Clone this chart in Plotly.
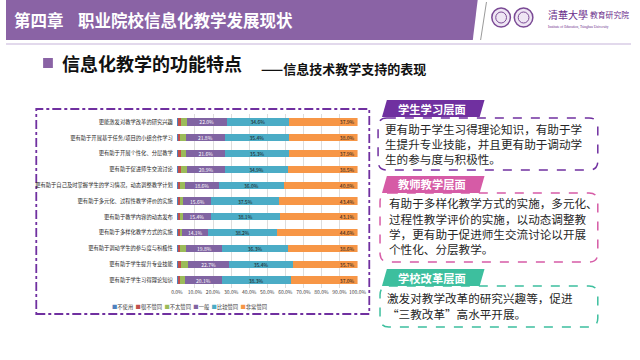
import plotly.graph_objects as go

W, H = 640, 360

categories = [
    "更能激发对教学改革的研究兴趣",
    "更有助于开展基于任务/项目的小组合作学习",
    "更有助于开展个性化、分层教学",
    "更有助于促进师生交流讨论",
    "更有助于自己及时掌握学生的学习情况，动态调整教学计划",
    "更有助于多元化、过程性教学评价的实施",
    "更有助于教学内容的动态发布",
    "更有助于多样化教学方式的实施",
    "更有助于调动学生的参与度与积极性",
    "更有助于学生提升专业技能",
    "更有助于学生习得理论知识",
]
series_names = ["不使用", "很不赞同", "不太赞同", "一般", "比较赞同", "非常赞同"]
s_none = [1.1, 1.0, 1.0, 1.1, 1.0, 1.0, 1.0, 1.0, 0.9, 1.0, 1.0]
s_strong_dis = [1.0, 0.9, 1.0, 1.0, 0.9, 0.7, 0.7, 0.6, 0.9, 1.0, 0.8]
s_dis = [3.4, 2.9, 3.2, 3.6, 2.7, 1.8, 1.7, 1.5, 3.5, 4.2, 2.8]
s_neutral = [22.0, 21.8, 21.6, 20.9, 18.6, 15.6, 15.4, 14.1, 19.8, 22.7, 20.1]
s_agree = [34.6, 35.4, 35.3, 34.9, 36.0, 37.5, 38.1, 38.2, 36.3, 35.4, 38.3]
s_strong = [37.9, 38.0, 37.9, 38.5, 40.8, 43.4, 43.1, 44.6, 38.6, 35.7, 37.0]
x_ticks = [0, 10, 20, 30, 40, 50, 60, 70, 80, 90, 100]

series_values = [s_none, s_strong_dis, s_dis, s_neutral, s_agree, s_strong]
colors = ["#4F81BD", "#C0504D", "#9BBB59", "#8064A2", "#4BACC6", "#F79646"]
text_colors = [None, None, None, "#FFFFFF", "#1A1A1A", "#1A1A1A"]
anchors = [None, None, None, "middle", "middle", "end"]

FONT = "Noto Sans CJK SC"


def px(x):
    return x / W


def py(y):
    return 1 - y / H


fig = go.Figure()
for i, (name, vals) in enumerate(zip(series_names, series_values)):
    kw = {}
    if text_colors[i]:
        kw = dict(
            texttemplate="%{x:.1f}%",
            textposition="inside",
            insidetextanchor=anchors[i],
            textfont=dict(size=5, color=text_colors[i], family=FONT),
            textangle=0,
        )
    fig.add_trace(go.Bar(
        y=categories, x=vals, name=name, orientation="h",
        marker=dict(color=colors[i], line=dict(width=0)),
        showlegend=False, hoverinfo="skip", **kw,
    ))

fig.update_layout(
    width=W, height=H,
    margin=dict(l=0, r=0, t=0, b=0),
    paper_bgcolor="white", plot_bgcolor="white",
    barmode="stack", bargap=0.54,
    font=dict(family=FONT),
    uniformtext=dict(minsize=4, mode="show"),
    xaxis=dict(
        domain=[px(175), px(360)], range=[0, 100],
        tickvals=x_ticks, ticktext=[f"{v:.1f}%" for v in x_ticks],
        tickangle=0,
        showgrid=True, gridcolor="#DDDDDD", gridwidth=0.6,
        zeroline=False, showline=False, ticks="",
        tickfont=dict(size=5, color="#404040", family=FONT),
        fixedrange=True,
    ),
    yaxis=dict(
        domain=[py(288), py(114)], autorange="reversed",
        showgrid=False, showline=False, ticks="",
        tickfont=dict(size=5.3, color="#262626", family=FONT),
        ticklabelstandoff=3,
        fixedrange=True,
    ),
)

shapes = []
ann = []


def note(x, y, text, size, color, xanchor="left", family=FONT):
    ann.append(dict(xref="paper", yref="paper", x=px(x), y=py(y), text=text,
                    xanchor=xanchor, yanchor="middle", showarrow=False,
                    font=dict(size=size, color=color, family=family)))


def path_poly(pts):
    return "M " + " L ".join(f"{px(x)},{py(y)}" for x, y in pts) + " Z"


def rounded(x0, y0, x1, y1, r):
    p = [
        f"M {px(x0 + r)},{py(y0)}",
        f"L {px(x1 - r)},{py(y0)}",
        f"Q {px(x1)},{py(y0)} {px(x1)},{py(y0 + r)}",
        f"L {px(x1)},{py(y1 - r)}",
        f"Q {px(x1)},{py(y1)} {px(x1 - r)},{py(y1)}",
        f"L {px(x0 + r)},{py(y1)}",
        f"Q {px(x0)},{py(y1)} {px(x0)},{py(y1 - r)}",
        f"L {px(x0)},{py(y0 + r)}",
        f"Q {px(x0)},{py(y0)} {px(x0 + r)},{py(y0)} Z",
    ]
    return " ".join(p)


# header bar
shapes.append(dict(type="path", xref="paper", yref="paper",
                   path=path_poly([(0, 0), (483, 0), (478, 40), (0, 40)]),
                   fillcolor="#8A63A5", line=dict(width=0), layer="below"))
shapes.append(dict(type="line", xref="paper", yref="paper",
                   x0=px(0), x1=px(640), y0=py(44), y1=py(44),
                   line=dict(color="#D9CCE6", width=1.5), layer="below"))
shapes.append(dict(type="line", xref="paper", yref="paper",
                   x0=px(492), x1=px(486), y0=py(2), y1=py(40),
                   line=dict(color="#9A9A9A", width=1), layer="below"))
# logos
for cx in (507, 530):
    shapes.append(dict(type="circle", xref="paper", yref="paper",
                       x0=px(cx - 9.5), x1=px(cx + 9.5), y0=py(27), y1=py(8),
                       line=dict(color="#7A4A95", width=1.5), fillcolor="#EFE6F4",
                       layer="below"))
    shapes.append(dict(type="circle", xref="paper", yref="paper",
                       x0=px(cx - 5.5), x1=px(cx + 5.5), y0=py(23), y1=py(12),
                       line=dict(color="#7A4A95", width=1), fillcolor="rgba(0,0,0,0)",
                       layer="below"))
note(553, 15, "清華大學", 10, "#6A2C8A")
note(596, 15, "教育研究院", 7.8, "#6A2C8A")
note(553, 28, "Institute of Education, Tsinghua University", 3.5, "#6A2C8A",
     family="Liberation Serif")

# title
note(6, 20, "<b>第四章</b>", 16.5, "white")
note(72, 20, "<b>职业院校信息化教学发展现状</b>", 16.5, "white")

# subtitle
shapes.append(dict(type="rect", xref="paper", yref="paper",
                   x0=px(38), x1=px(48), y0=py(68), y1=py(58),
                   fillcolor="#8A63A5", line=dict(width=0)))
note(55, 63, "<b>信息化教学的功能特点</b>", 18, "#111111")
note(259, 68, "<b>——信息技术教学支持的表现</b>", 13, "#111111")

# dash-dot chart frame
shapes.append(dict(type="rect", xref="paper", yref="paper",
                   x0=px(31), x1=px(372), y0=py(314), y1=py(109),
                   line=dict(color="#7030A0", width=1.8, dash="dashdot"),
                   fillcolor="rgba(0,0,0,0)", layer="below"))

# legend built from series names/colours
leg = "  ".join(f"<span style='color:{c}'>■</span>{n}" for n, c in zip(series_names, colors))
note(188, 307, leg, 5.3, "#404040", xanchor="center")

# right-hand panels
panels = [
    dict(tab="学生学习层面", color="#7030A0", tab_y=(100, 117), box=(381, 118, 606, 170),
         lines=["更有助于学生习得理论知识，有助于学", "生提升专业技能，并且更有助于调动学", "生的参与度与积极性。"],
         ly=[129, 144, 159], lx=[386, 386, 386]),
    dict(tab="教师教学层面", color="#D65BA6", tab_y=(176, 193), box=(383, 193, 606, 262),
         lines=["有助于多样化教学方式的实施，多元化、", "过程性教学评价的实施，以动态调整教", "学，更有助于促进师生交流讨论以开展", "个性化、分层教学。"],
         ly=[203, 219, 234, 249], lx=[390, 390, 390, 390]),
    dict(tab="学校改革层面", color="#3DBF9E", tab_y=(269, 286), box=(383, 286, 606, 327),
         lines=["激发对教学改革的研究兴趣等，促进", "“三教改革”高水平开展。"],
         ly=[298, 314], lx=[388, 388]),
]
for p in panels:
    x0, y0, x1, y1 = p["box"]
    shapes.append(dict(type="path", xref="paper", yref="paper",
                       path=rounded(x0, y0, x1, y1, 9),
                       line=dict(color=p["color"], width=1.5, dash="dash"),
                       fillcolor="white"))
    ty0, ty1 = p["tab_y"]
    shapes.append(dict(type="path", xref="paper", yref="paper",
                       path=path_poly([(390, ty0), (490, ty0), (485, ty1), (385, ty1)]),
                       fillcolor=p["color"], line=dict(width=0)))
    note(436, (ty0 + ty1) / 2, f"<b>{p['tab']}</b>", 11.3, "white", xanchor="center")
    for t, yy, xx in zip(p["lines"], p["ly"], p["lx"]):
        note(xx, yy, t, 11.6, "#262626")

fig.update_layout(shapes=shapes, annotations=ann)
fig.write_html(
    "out.html",
    config={"displayModeBar": False},
    post_script="document.body.style.margin='0';document.body.style.overflow='hidden';",
)
